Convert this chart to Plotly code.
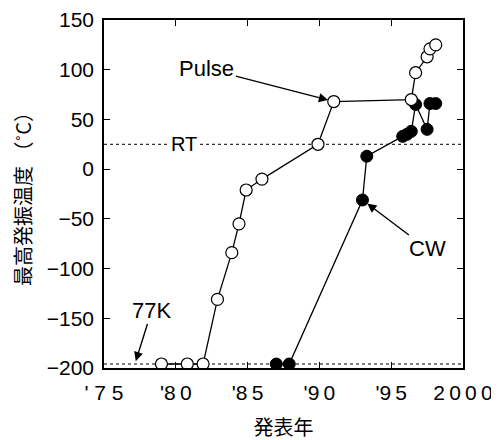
import plotly.graph_objects as go

# Data
pulse_year = [1979.0, 1980.8, 1981.9, 1982.9, 1983.9, 1984.4, 1984.9, 1986.0, 1989.9, 1991.0, 1996.4, 1996.7, 1997.5, 1997.7, 1998.1]
pulse_temp = [-196, -196, -196, -131, -84, -55, -21, -10, 25, 68, 70, 97, 113, 121, 125]

cw_year = [1987.0, 1987.9, 1993.0, 1993.3, 1995.8, 1996.1, 1996.4, 1996.7, 1997.5, 1997.7, 1998.1]
cw_temp = [-196, -196, -31, 13, 33, 35, 38, 65, 40, 66, 66]

x_tickvals = [1975, 1980, 1985, 1990, 1995, 2000]
x_ticktext = ["' 7 5", "'8\u20090", "'8\u20095", "'9\u20090", "'9\u20095", "2\u20090\u20090\u20090"]
y_tickvals = [-200, -150, -100, -50, 0, 50, 100, 150]

rt_temp = 25
k77_temp = -196

FONT = "Liberation Sans, Arial, Noto Sans CJK JP, sans-serif"
JFONT = "Noto Sans CJK JP"

fig = go.Figure()

fig.add_trace(go.Scatter(
    x=cw_year, y=cw_temp, mode="lines+markers",
    line=dict(color="black", width=1.3),
    marker=dict(size=12, color="black", line=dict(color="black", width=1)),
    showlegend=False,
))
fig.add_trace(go.Scatter(
    x=pulse_year, y=pulse_temp, mode="lines+markers",
    line=dict(color="black", width=1.3),
    marker=dict(size=12, color="white", line=dict(color="black", width=1.2)),
    showlegend=False,
))

for yv in (rt_temp, k77_temp):
    fig.add_shape(type="line", xref="paper", x0=0, x1=1, yref="y", y0=yv, y1=yv,
                  line=dict(color="black", width=1, dash="dot"), layer="below")

fig.add_annotation(x=1980.6, y=rt_temp, text="RT", showarrow=False,
                   font=dict(size=20, color="black", family=FONT), bgcolor="white")

arrow = dict(showarrow=True, arrowhead=2, arrowsize=1.3, arrowwidth=1.4, arrowcolor="black")
fig.add_annotation(x=pulse_year[9], y=pulse_temp[9], text="Pulse", standoff=6,
                   ax=-127, ay=-33, font=dict(size=22, color="black", family=FONT), **arrow)
fig.add_annotation(x=cw_year[2], y=cw_temp[2], text="CW", standoff=6,
                   ax=65, ay=49, font=dict(size=22, color="black", family=FONT), **arrow)
fig.add_annotation(x=1977.15, y=k77_temp, text="77K", standoff=3,
                   ax=17, ay=-54, font=dict(size=22, color="black", family=FONT), **arrow)

fig.update_layout(
    template="none",
    width=499, height=440,
    margin=dict(l=96, r=44, t=12, b=80, autoexpand=False),
    paper_bgcolor="white", plot_bgcolor="white",
    font=dict(family=FONT, color="black", size=21),
)
fig.update_xaxes(
    range=[1975, 2000], tickvals=x_tickvals, ticktext=x_ticktext,
    ticks="inside", ticklen=6, tickwidth=1.2, tickcolor="black",
    showline=True, linecolor="black", linewidth=1.5, mirror="ticks",
    showgrid=False, zeroline=False, automargin=False,
    ticklabelstandoff=5, ticklabeloverflow="allow",
    tickfont=dict(size=21, color="black"),
    title=dict(text="発表年", font=dict(size=20, family=JFONT, color="black"), standoff=18),
)
fig.update_yaxes(
    range=[-200, 150], tickvals=y_tickvals,
    ticks="inside", ticklen=6, tickwidth=1.2, tickcolor="black",
    showline=True, linecolor="black", linewidth=1.5, mirror="ticks",
    showgrid=False, zeroline=False, automargin=False,
    ticklabelstandoff=4, ticklabeloverflow="allow",
    tickfont=dict(size=21, color="black"),
    title=dict(text="最高発振温度 （˚C）", font=dict(size=20, family=JFONT, color="black"), standoff=10),
)

fig.write_html("out.html")
